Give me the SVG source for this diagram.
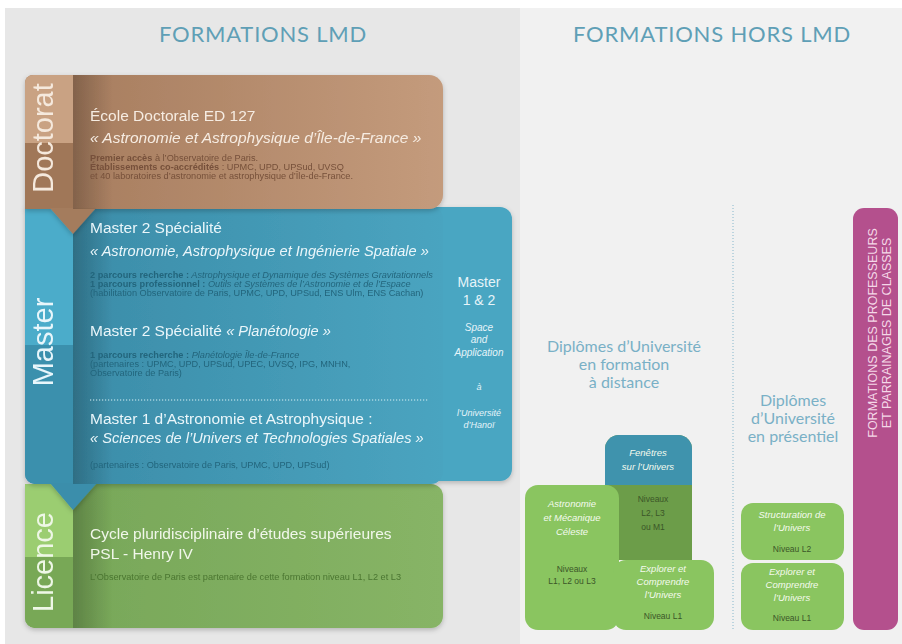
<svg xmlns="http://www.w3.org/2000/svg" width="902" height="644" viewBox="0 0 902 644">
<defs>
<style>
.hd{font-family:Lato,"Liberation Sans",sans-serif;font-size:22px;fill:#5f9fb6;letter-spacing:0.8px;text-anchor:middle}
.du{font-family:Lato,"Liberation Sans",sans-serif;font-size:16px;fill:#79b0c6;text-anchor:middle}
.lab{font-family:"Liberation Sans",Arial,sans-serif;font-size:29px;text-anchor:middle}
.t1{font-family:"Liberation Sans",Arial,sans-serif;font-size:15.5px}
.ti{font-family:"Liberation Sans",Arial,sans-serif;font-size:14.6px;font-style:italic}
.it{font-style:italic}
.sm{font-family:"Liberation Sans",Arial,sans-serif;font-size:9.2px}
.b{font-weight:bold}
.sd{font-family:"Liberation Sans",Arial,sans-serif;text-anchor:middle;fill:#e6f4f9}
.bx{font-family:"Liberation Sans",Arial,sans-serif;text-anchor:middle;font-size:9.5px}
.bw{fill:#f4faee;font-style:italic}
.bd{fill:#3b5628;font-size:8.5px}
.mg{font-family:"Liberation Sans",Arial,sans-serif;font-size:12.5px;fill:#f4d8e8;text-anchor:middle}
</style>
<linearGradient id="gDoc" x1="0" x2="1" y1="0" y2="0"><stop offset="0" stop-color="#a47a5c"/><stop offset="1" stop-color="#c49b7c"/></linearGradient>
<linearGradient id="gMas" x1="0" x2="1" y1="0" y2="0"><stop offset="0" stop-color="#3a8aa6"/><stop offset="1" stop-color="#4aa4c0"/></linearGradient>
<linearGradient id="gLic" x1="0" x2="1" y1="0" y2="0"><stop offset="0" stop-color="#76a657"/><stop offset="1" stop-color="#87b466"/></linearGradient>
<linearGradient id="fold" x1="0" x2="1" y1="0" y2="0"><stop offset="0" stop-color="#000" stop-opacity="0.22"/><stop offset="1" stop-color="#000" stop-opacity="0"/></linearGradient>
<filter id="sh" x="-5%" y="-5%" width="110%" height="115%"><feDropShadow dx="0" dy="2" stdDeviation="2.5" flood-color="#000" flood-opacity="0.22"/></filter>
</defs>

<rect x="0" y="0" width="902" height="644" fill="#ffffff"/>
<rect x="5" y="8" width="515" height="636" fill="#e7e7e7"/>
<rect x="520" y="8" width="382" height="636" fill="#f1f1f1"/>

<text class="hd" x="263" y="42">FORMATIONS LMD</text>
<text class="hd" x="712" y="42">FORMATIONS HORS LMD</text>

<g id="licence" filter="url(#sh)">
<path d="M25,484 H431 a12,12 0 0 1 12,12 V616 a12,12 0 0 1 -12,12 H35 a10,10 0 0 1 -10,-10 Z" fill="url(#gLic)"/>
<rect x="25" y="484" width="48" height="73" fill="#9bcd71"/>
<path d="M25,557 H73 V628 H35 a10,10 0 0 1 -10,-10 Z" fill="#78a857"/>
<rect x="73" y="484" width="40" height="144" fill="url(#fold)"/>
<text class="lab" fill="#eef7e6" transform="translate(53,562) rotate(-90)">Licence</text>
<text class="t1" fill="#f1f7ea" x="90" y="539">Cycle pluridisciplinaire d’études supérieures</text>
<text class="t1" fill="#f1f7ea" x="90" y="559">PSL - Henry IV</text>
<text class="sm" fill="#4a7530" x="90" y="580">L’Observatoire de Paris est partenaire de cette formation niveau L1, L2 et L3</text>
</g>

<g id="master" filter="url(#sh)">
<path d="M420,207 H500 a12,12 0 0 1 12,12 V469 a12,12 0 0 1 -12,12 H420 Z" fill="#4aa6c2"/>
<path d="M25,207 H433 a10,10 0 0 1 10,10 V472 a12,12 0 0 1 -12,12 H35 a10,10 0 0 1 -10,-10 Z" fill="url(#gMas)"/>
<rect x="25" y="207" width="48" height="138" fill="#4bacca"/>
<path d="M25,345 H73 V484 H35 a10,10 0 0 1 -10,-10 Z" fill="#3b90ad"/>
<polygon points="50,483 73,510 97,483" fill="#3a8eab"/>
<rect x="73" y="207" width="40" height="277" fill="url(#fold)"/>
<text class="lab" fill="#e8f6fb" transform="translate(53,342) rotate(-90)">Master</text>
<text class="t1" fill="#eaf6fa" x="90" y="233">Master 2 Spécialité</text>
<text class="ti" fill="#eaf6fa" x="90" y="256">« Astronomie, Astrophysique et Ingénierie Spatiale »</text>
<text class="sm" fill="#23657c" x="90" y="278"><tspan class="b">2 parcours recherche :</tspan><tspan class="it"> Astrophysique et Dynamique des Systèmes Gravitationnels</tspan></text>
<text class="sm" fill="#23657c" x="90" y="287"><tspan class="b">1 parcours professionnel :</tspan><tspan class="it"> Outils et Systèmes de l’Astronomie et de l’Espace</tspan></text>
<text class="sm" fill="#23657c" x="90" y="296">(habilitation Observatoire de Paris, UPMC, UPD, UPSud, ENS Ulm, ENS Cachan)</text>
<text class="t1" fill="#eaf6fa" x="90" y="336">Master 2 Spécialité  <tspan class="it" font-size="14.6">« Planétologie »</tspan></text>
<text class="sm" fill="#23657c" x="90" y="358"><tspan class="b">1 parcours recherche :</tspan><tspan class="it"> Planétologie Île-de-France</tspan></text>
<text class="sm" fill="#23657c" x="90" y="367">(partenaires : UPMC, UPD, UPSud, UPEC, UVSQ, IPG, MNHN,</text>
<text class="sm" fill="#23657c" x="90" y="376">Observatoire de Paris)</text>
<line x1="90" y1="400" x2="428" y2="400" stroke="#d8eff6" stroke-width="1.2" stroke-dasharray="1.2 1.8"/>
<text class="t1" fill="#eaf6fa" x="90" y="424">Master 1 d’Astronomie et Astrophysique :</text>
<text class="ti" fill="#eaf6fa" x="90" y="443">« Sciences de l’Univers et Technologies Spatiales »</text>
<text class="sm" fill="#23657c" x="90" y="468">(partenaires : Observatoire de Paris, UPMC, UPD, UPSud)</text>
</g>

<g id="master-1-2">
<text class="sd" x="479" y="287" font-size="14">Master</text>
<text class="sd" x="479" y="305" font-size="14">1 &amp; 2</text>
<text class="sd it" x="479" y="331" font-size="10">Space</text>
<text class="sd it" x="479" y="343" font-size="10">and</text>
<text class="sd it" x="479" y="356" font-size="10">Application</text>
<text class="sd it" x="479" y="390" font-size="9">à</text>
<text class="sd it" x="479" y="416" font-size="9">l’Université</text>
<text class="sd it" x="479" y="428" font-size="9">d’Hanoï</text>
</g>

<g id="doctorat" filter="url(#sh)">
<path d="M33,75 H429 a14,14 0 0 1 14,14 V195 a14,14 0 0 1 -14,14 H25 V83 a8,8 0 0 1 8,-8 Z" fill="url(#gDoc)"/>
<rect x="25" y="143" width="48" height="66" fill="#a07759"/>
<path d="M33,75 H73 V143 H25 V83 a8,8 0 0 1 8,-8 Z" fill="#c9a283"/>
<polygon points="50,208 73,234 96,208" fill="#a47b5d"/>
<rect x="73" y="75" width="40" height="134" fill="url(#fold)"/>
<text class="lab" fill="#f5e9dd" transform="translate(53,138) rotate(-90)">Doctorat</text>
<text class="t1" fill="#f6ece2" x="90" y="121">École Doctorale ED 127</text>
<text class="t1 it" fill="#f6ece2" x="90" y="143">« Astronomie et Astrophysique d’Île-de-France »</text>
<text class="sm" fill="#76503a" x="90" y="161"><tspan class="b">Premier accès</tspan> à l’Observatoire de Paris.</text>
<text class="sm" fill="#76503a" x="90" y="170"><tspan class="b">Établissements co-accrédités</tspan> : UPMC, UPD, UPSud, UVSQ</text>
<text class="sm" fill="#76503a" x="90" y="179">et 40 laboratoires d’astronomie et astrophysique d’Île-de-France.</text>
</g>

<line id="separateur" x1="733" y1="205" x2="733" y2="630" stroke="#86b7cc" stroke-width="1" stroke-dasharray="1 2"/>

<g id="du-distance">
<text class="du" x="624" y="352">Diplômes d’Université</text>
<text class="du" x="624" y="370">en formation</text>
<text class="du" x="624" y="388">à distance</text>
</g>

<g id="fenetres">
<path d="M619,435 H678 a14,14 0 0 1 14,14 V560 H605 V449 a14,14 0 0 1 14,-14 Z" fill="#6c9d49"/>
<path d="M619,435 H678 a14,14 0 0 1 14,14 V485 H605 V449 a14,14 0 0 1 14,-14 Z" fill="#3f93ad"/>
<text class="bx bw" x="648" y="456">Fenêtres</text>
<text class="bx bw" x="648" y="470">sur l’Univers</text>
<text class="bx bd" x="653" y="502">Niveaux</text>
<text class="bx bd" x="653" y="516">L2, L3</text>
<text class="bx bd" x="653" y="530">ou M1</text>
</g>

<g id="astronomie-mecanique">
<rect x="525" y="485" width="94" height="145" rx="13" fill="#8ac560"/>
<text class="bx bw" x="572" y="507">Astronomie</text>
<text class="bx bw" x="572" y="521">et Mécanique</text>
<text class="bx bw" x="572" y="535">Céleste</text>
<text class="bx bd" x="572" y="572">Niveaux</text>
<text class="bx bd" x="572" y="584">L1, L2 ou L3</text>
</g>

<g id="explorer-distance">
<rect x="613" y="560" width="101" height="70" rx="13" fill="#8ac560"/>
<text class="bx bw" x="663" y="572">Explorer et</text>
<text class="bx bw" x="663" y="585">Comprendre</text>
<text class="bx bw" x="663" y="598">l’Univers</text>
<text class="bx bd" x="663" y="619">Niveau L1</text>
</g>

<g id="du-presentiel">
<text class="du" x="793" y="406">Diplômes</text>
<text class="du" x="793" y="424">d’Université</text>
<text class="du" x="793" y="442">en présentiel</text>
</g>

<g id="structuration">
<rect x="741" y="503" width="103" height="57" rx="12" fill="#8ac560"/>
<text class="bx bw" x="792" y="518">Structuration de</text>
<text class="bx bw" x="792" y="531">l’Univers</text>
<text class="bx bd" x="792" y="552">Niveau L2</text>
</g>

<g id="explorer-presentiel">
<rect x="741" y="563" width="103" height="67" rx="12" fill="#8ac560"/>
<text class="bx bw" x="792" y="575">Explorer et</text>
<text class="bx bw" x="792" y="588">Comprendre</text>
<text class="bx bw" x="792" y="601">l’Univers</text>
<text class="bx bd" x="792" y="621">Niveau L1</text>
</g>

<g id="formations-professeurs">
<rect x="853" y="208" width="45" height="422" rx="11" fill="#b4508d"/>
<text class="mg" transform="translate(877,333) rotate(-90)">FORMATIONS DES PROFESSEURS</text>
<text class="mg" transform="translate(891,333) rotate(-90)">ET PARRAINAGES DE CLASSES</text>
</g>
</svg>
